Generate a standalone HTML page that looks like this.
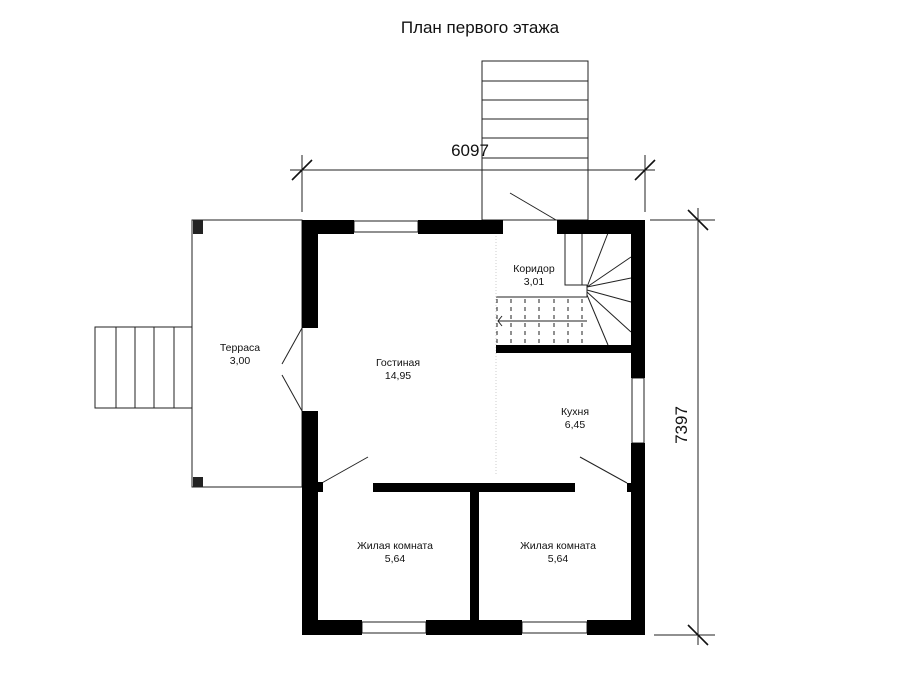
<!DOCTYPE html>
<html><head><meta charset="utf-8"><style>body{margin:0;background:#fff}svg{display:block}text{font-family:"Liberation Sans",sans-serif;fill:#111}</style></head><body>
<svg width="900" height="675" viewBox="0 0 900 675" xmlns="http://www.w3.org/2000/svg">
<text x="480" y="33" font-size="17" text-anchor="middle">План первого этажа</text>
<!-- top stairs -->
<g fill="none" stroke="#222" stroke-width="1">
<rect x="482" y="61" width="106" height="159"/>
<line x1="482" y1="81" x2="588" y2="81"/><line x1="482" y1="100" x2="588" y2="100"/><line x1="482" y1="119" x2="588" y2="119"/><line x1="482" y1="138" x2="588" y2="138"/><line x1="482" y1="158" x2="588" y2="158"/>
<!-- dim top -->
<line x1="290" y1="170" x2="655" y2="170"/>
<line x1="302" y1="155" x2="302" y2="212"/><line x1="645" y1="155" x2="645" y2="212"/>
<line x1="510" y1="193" x2="556" y2="220"/>
<!-- dim right -->
<line x1="698" y1="208" x2="698" y2="645"/>
<line x1="650" y1="220" x2="715" y2="220"/><line x1="654" y1="635" x2="715" y2="635"/>
<!-- terrace -->
<rect x="192" y="220" width="110" height="267"/>
<rect x="95" y="327" width="97" height="81"/>
<line x1="116" y1="327" x2="116" y2="408"/><line x1="135" y1="327" x2="135" y2="408"/><line x1="154" y1="327" x2="154" y2="408"/><line x1="174" y1="327" x2="174" y2="408"/>
<line x1="302" y1="328" x2="282" y2="364"/><line x1="282" y1="375" x2="302" y2="411"/>
<line x1="302" y1="328" x2="302" y2="411"/>
<line x1="320" y1="484" x2="368" y2="457"/>
<line x1="580" y1="457" x2="627" y2="483"/>
<!-- corridor stair -->
<polyline points="565,233 565,285 587,285"/><line x1="582" y1="233" x2="582" y2="285"/>
<line x1="496" y1="297" x2="587" y2="297"/><line x1="587" y1="285" x2="587" y2="297"/>
<line x1="587" y1="287" x2="608" y2="233"/><line x1="587" y1="287" x2="631" y2="257"/><line x1="587" y1="287" x2="631" y2="278"/><line x1="587" y1="290" x2="631" y2="302"/><line x1="587" y1="292" x2="631" y2="332"/><line x1="587" y1="295" x2="608" y2="345"/>
<line x1="498" y1="321" x2="587" y2="321"/><polyline points="502,316 498,321 502,326"/>
<g stroke-dasharray="4,4"><line x1="497" y1="299" x2="497" y2="345"/><line x1="511" y1="299" x2="511" y2="345"/><line x1="525" y1="299" x2="525" y2="345"/><line x1="539" y1="299" x2="539" y2="345"/><line x1="554" y1="299" x2="554" y2="345"/><line x1="568" y1="299" x2="568" y2="345"/><line x1="582" y1="299" x2="582" y2="345"/></g>
<line x1="496" y1="233" x2="496" y2="475" stroke="#ccc" stroke-dasharray="1,2"/>
<!-- windows -->
<rect x="354" y="221" width="64" height="11"/><rect x="362" y="622" width="64" height="11"/><rect x="522" y="622" width="65" height="11"/><rect x="632" y="378" width="12" height="65"/>
</g>
<g stroke="#111" stroke-width="1.6">
<line x1="292" y1="180" x2="312" y2="160"/><line x1="635" y1="180" x2="655" y2="160"/>
<line x1="688" y1="210" x2="708" y2="230"/><line x1="688" y1="625" x2="708" y2="645"/>
</g>
<!-- walls -->
<g fill="#000">
<rect x="302" y="220" width="52" height="14"/><rect x="418" y="220" width="85" height="14"/><rect x="557" y="220" width="88" height="14"/>
<rect x="302" y="220" width="16" height="108"/><rect x="302" y="411" width="16" height="224"/>
<rect x="631" y="220" width="14" height="158"/><rect x="631" y="443" width="14" height="192"/>
<rect x="302" y="620" width="60" height="15"/><rect x="426" y="620" width="96" height="15"/><rect x="587" y="620" width="58" height="15"/>
<rect x="496" y="345" width="135" height="8"/>
<rect x="373" y="483" width="202" height="9"/><rect x="470" y="483" width="9" height="138"/>
<rect x="318" y="482" width="5" height="10"/><rect x="627" y="483" width="4" height="9"/>
<rect x="193" y="220" width="10" height="14" fill="#222"/><rect x="193" y="477" width="10" height="10" fill="#222"/>
</g>
<text x="470" y="156" font-size="17" text-anchor="middle">6097</text>
<text x="0" y="0" font-size="17" text-anchor="middle" transform="translate(687,425) rotate(-90)">7397</text>
<g font-size="10.5" text-anchor="middle">
<text x="534" y="272">Коридор</text><text x="534" y="285">3,01</text>
<text x="398" y="366">Гостиная</text><text x="398" y="379">14,95</text>
<text x="240" y="351">Терраса</text><text x="240" y="364">3,00</text>
<text x="575" y="415">Кухня</text><text x="575" y="428">6,45</text>
<text x="395" y="549">Жилая комната</text><text x="395" y="562">5,64</text>
<text x="558" y="549">Жилая комната</text><text x="558" y="562">5,64</text>
</g>
</svg>
</body></html>
